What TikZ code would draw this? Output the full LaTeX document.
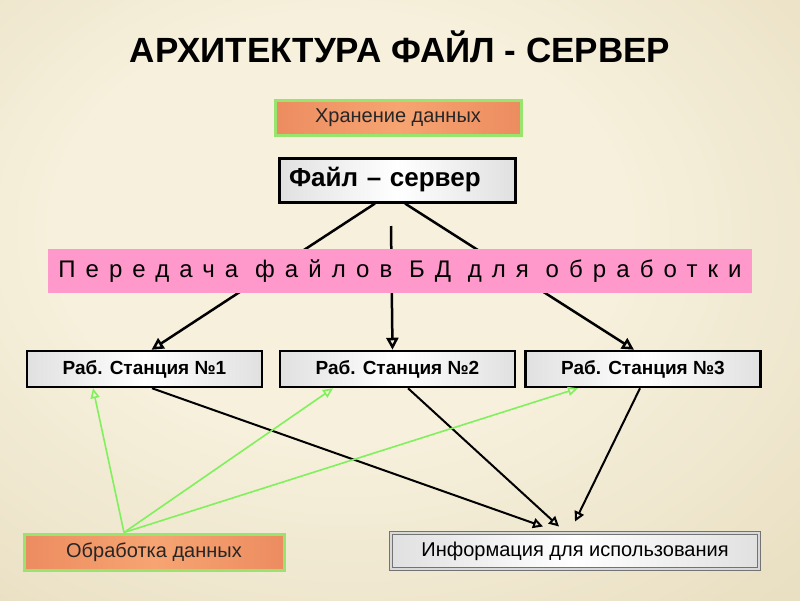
\documentclass[tikz,border=0pt]{standalone}
\usepackage{fontspec}
\setmainfont{Liberation Sans}
\newfontfamily\spacedfont{Liberation Sans}[LetterSpace=42]
\usetikzlibrary{arrows.meta}
\definecolor{bgin}{HTML}{F6F0DC}
\definecolor{bgout}{HTML}{D4C499}
\definecolor{orangemid}{HTML}{F7A472}
\definecolor{orangeedge}{HTML}{EC8C60}
\definecolor{boxgreen}{HTML}{99E36F}
\definecolor{barpink}{HTML}{FF99CC}
\definecolor{linegreen}{HTML}{80F05C}
\pgfdeclareradialshading{bgshade}{\pgfpoint{-5bp}{8bp}}{color(0bp)=(bgin); color(18bp)=(bgin); color(72bp)=(bgout)}

\begin{document}
\begin{tikzpicture}[%
	x=1pt, y=-1pt,
	every node/.style = {shape=rectangle, inner sep=0pt, align=center},
	datanode/.style = {draw=boxgreen, line width=3pt, left color=orangeedge, right color=orangeedge, middle color=orangemid,
	  text=black!85, font=\fontsize{20}{24}\selectfont},
	graybox/.style = {left color=black!12, right color=black!12, middle color=white},
	station/.style = {graybox, draw=black, line width=2.5pt, minimum width=235pt, minimum height=36pt,
	  font=\bfseries\fontsize{19}{22}\selectfont},
	toparrow/.style = {line width=2.5pt, -{Triangle[open, length=12pt, width=12pt]}},
	downarrow/.style = {line width=2pt, -{Triangle[open, length=10pt, width=10pt]}},
	greenarrow/.style = {draw=linegreen, line width=1.6pt, -{Triangle[open, length=10pt, width=9pt]}}
	]
  \useasboundingbox (0,0) rectangle (800,600);
  \shade[shading=bgshade] (0,0) rectangle (800,600);
  \node [anchor=base, font=\bfseries\fontsize{35}{40}\selectfont] (title) at (400,62) {АРХИТЕКТУРА ФАЙЛ - СЕРВЕР};
  \node [datanode, minimum width=246pt, minimum height=35pt] (store) at (398,117.5) {Хранение данных};
  \node [graybox, draw=black, line width=3pt, minimum height=44pt, text width=216pt, inner xsep=10pt, align=left,
    font=\bfseries\fontsize{26}{30}\selectfont] (fs) at (397,180) {Файл – сервер};
  \node [station] (st1) at (144.5,369) {Раб. Станция №1};
  \node [station] (st2) at (397.5,369) {Раб. Станция №2};
  \node [station] (st3) at (643,369) {Раб. Станция №3};
  \node [datanode, minimum width=260pt, minimum height=36pt] (proc) at (154,552) {Обработка данных};
  \node [graybox, draw=black!55, line width=1pt, double=black!15, double distance=2pt, minimum width=368pt, minimum height=36pt,
    font=\fontsize{20}{24}\selectfont] (info) at (575,551) {Информация для использования};
  \coordinate (mid) at (391,226);
  \draw [toparrow] ([xshift=-22pt]fs.south) -- ([xshift=7pt]st1.north);
  \draw [toparrow] (mid) -- ([xshift=-5pt]st2.north);
  \draw [toparrow] ([xshift=8pt]fs.south) -- ([xshift=-9pt]st3.north);
  \draw [downarrow] ([xshift=7.5pt]st1.south) -- ([xshift=-32pt, yshift=6pt]info.north);
  \draw [downarrow] ([xshift=10.5pt]st2.south) -- ([xshift=-16pt, yshift=6pt]info.north);
  \draw [downarrow] ([xshift=-3pt]st3.south) -- ([yshift=11pt]info.north);
  \draw [greenarrow] ([xshift=-30pt]proc.north) -- ([xshift=-51.5pt]st1.south);
  \draw [greenarrow] ([xshift=-30pt]proc.north) -- ([xshift=-64.5pt]st2.south);
  \draw [greenarrow] ([xshift=-30pt]proc.north) -- ([xshift=-65pt]st3.south);
  \node [fill=barpink, minimum width=704pt, minimum height=44pt,
    font=\spacedfont\fontsize{24}{28}\selectfont] (bar) at (400,271) {Передача файлов БД для обработки};
\end{tikzpicture}
\end{document}
